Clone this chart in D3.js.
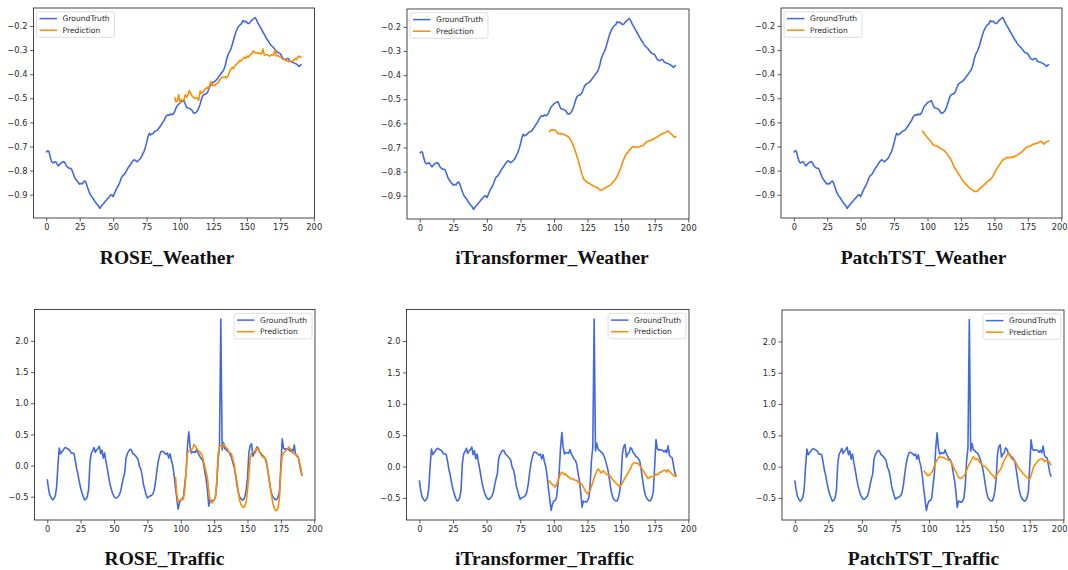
<!DOCTYPE html>
<html>
<head>
<meta charset="utf-8">
<script src="https://cdn.jsdelivr.net/npm/d3@7"></script>
<style>
  body { margin: 0; background: #fff; }
  .tick text { font-family: "DejaVu Sans", sans-serif; font-size: 8.3px; fill: #2b2b2b; }
  .legend text { font-family: "DejaVu Sans", sans-serif; font-size: 7.6px; fill: #2b2b2b; }
  .title { font-family: "Liberation Serif", "Times New Roman", serif; font-weight: bold; font-size: 19.5px; fill: #111; }
</style>
</head>
<body>
<script>
var width = 1068,
    height = 570;

// ground truth, steps 0..191
var weatherTruth = [
  -0.725,-0.718,-0.72,-0.745,-0.762,-0.768,-0.765,-0.763,-0.772,-0.78,
  -0.775,-0.768,-0.765,-0.762,-0.768,-0.78,-0.786,-0.79,-0.79,-0.795,
  -0.81,-0.826,-0.835,-0.843,-0.85,-0.856,-0.853,-0.855,-0.846,-0.843,
  -0.855,-0.872,-0.888,-0.9,-0.908,-0.915,-0.925,-0.932,-0.94,-0.946,
  -0.957,-0.948,-0.942,-0.935,-0.928,-0.922,-0.915,-0.91,-0.902,-0.9,
  -0.908,-0.895,-0.882,-0.87,-0.862,-0.848,-0.832,-0.822,-0.818,-0.81,
  -0.8,-0.79,-0.782,-0.775,-0.765,-0.758,-0.755,-0.76,-0.763,-0.757,
  -0.752,-0.745,-0.732,-0.722,-0.705,-0.685,-0.66,-0.645,-0.652,-0.648,
  -0.645,-0.638,-0.635,-0.633,-0.625,-0.618,-0.61,-0.6,-0.593,-0.58,
  -0.572,-0.568,-0.57,-0.565,-0.568,-0.565,-0.555,-0.54,-0.53,-0.525,
  -0.518,-0.515,-0.512,-0.51,-0.525,-0.538,-0.54,-0.542,-0.545,-0.55,
  -0.56,-0.562,-0.558,-0.552,-0.54,-0.525,-0.505,-0.49,-0.484,-0.482,
  -0.48,-0.47,-0.455,-0.442,-0.437,-0.433,-0.43,-0.425,-0.418,-0.41,
  -0.403,-0.395,-0.388,-0.378,-0.36,-0.335,-0.318,-0.308,-0.295,-0.278,
  -0.258,-0.238,-0.222,-0.21,-0.2,-0.195,-0.19,-0.178,-0.182,-0.18,
  -0.185,-0.19,-0.188,-0.18,-0.175,-0.17,-0.165,-0.172,-0.185,-0.195,
  -0.205,-0.215,-0.225,-0.235,-0.245,-0.255,-0.262,-0.272,-0.28,-0.285,
  -0.29,-0.298,-0.305,-0.31,-0.312,-0.315,-0.325,-0.335,-0.338,-0.34,
  -0.335,-0.335,-0.345,-0.348,-0.35,-0.352,-0.355,-0.358,-0.362,-0.368,
  -0.362,-0.36
];

var trafficTruth = [
  -0.22,-0.38,-0.48,-0.52,-0.55,-0.53,-0.49,-0.35,0.0,0.28,
  0.19,0.22,0.25,0.28,0.29,0.27,0.26,0.24,0.2,0.2,
  0.19,0.08,-0.05,-0.14,-0.26,-0.36,-0.44,-0.5,-0.55,-0.54,
  -0.5,-0.38,0.05,0.2,0.24,0.29,0.21,0.25,0.27,0.31,
  0.19,0.25,0.12,0.2,0.06,-0.05,-0.18,-0.3,-0.38,-0.45,
  -0.49,-0.52,-0.52,-0.5,-0.47,-0.41,-0.3,-0.2,-0.12,0.12,
  0.19,0.23,0.26,0.25,0.2,0.18,0.16,0.13,0.1,-0.01,
  -0.05,-0.15,-0.3,-0.38,-0.46,-0.52,-0.5,-0.49,-0.48,-0.46,
  -0.4,-0.28,-0.1,0.05,0.15,0.22,0.23,0.22,0.2,0.18,
  0.2,0.12,0.19,0.08,0.0,-0.15,-0.35,-0.52,-0.7,-0.6,
  -0.55,-0.54,-0.5,-0.3,-0.1,0.3,0.54,0.3,0.2,0.22,
  0.22,0.21,0.27,0.2,0.16,0.12,0.1,0.04,-0.1,-0.22,
  -0.4,-0.65,-0.55,-0.56,-0.57,-0.55,-0.5,-0.3,0.1,0.3,
  2.35,0.25,0.37,0.27,0.26,0.23,0.22,0.18,0.13,0.05,
  -0.03,-0.15,-0.3,-0.42,-0.5,-0.53,-0.55,-0.55,-0.5,-0.4,
  -0.2,0.2,0.32,0.35,0.15,0.2,0.22,0.3,0.28,0.22,
  0.2,0.16,0.15,0.12,0.08,-0.05,-0.2,-0.35,-0.45,-0.5,
  -0.53,-0.55,-0.54,-0.5,-0.4,0.0,0.43,0.28,0.26,0.27,
  0.26,0.26,0.23,0.26,0.22,0.33,0.18,0.15,0.14,0.02,
  -0.1,-0.16
];

// predictions, steps 96..191
var roseWeatherPred = [
  -0.495,-0.515,-0.51,-0.485,-0.52,-0.505,-0.51,-0.505,-0.485,-0.495,
  -0.485,-0.468,-0.48,-0.49,-0.495,-0.5,-0.498,-0.5,-0.508,-0.47,
  -0.48,-0.475,-0.466,-0.462,-0.455,-0.46,-0.45,-0.43,-0.448,-0.445,
  -0.448,-0.44,-0.438,-0.43,-0.42,-0.415,-0.412,-0.414,-0.41,-0.415,
  -0.405,-0.39,-0.38,-0.372,-0.376,-0.365,-0.36,-0.355,-0.348,-0.342,
  -0.345,-0.335,-0.33,-0.335,-0.325,-0.33,-0.322,-0.318,-0.31,-0.303,
  -0.312,-0.31,-0.313,-0.312,-0.316,-0.314,-0.296,-0.32,-0.32,-0.318,
  -0.322,-0.325,-0.32,-0.318,-0.322,-0.3,-0.325,-0.322,-0.325,-0.33,
  -0.332,-0.338,-0.34,-0.342,-0.344,-0.348,-0.347,-0.346,-0.345,-0.343,
  -0.335,-0.34,-0.33,-0.325,-0.33,-0.33
];

var itransWeatherPred = [
  -0.633,-0.632,-0.627,-0.626,-0.627,-0.629,-0.635,-0.643,-0.642,-0.644,
  -0.643,-0.645,-0.648,-0.65,-0.653,-0.657,-0.665,-0.675,-0.688,-0.702,
  -0.718,-0.735,-0.752,-0.775,-0.795,-0.815,-0.83,-0.836,-0.842,-0.846,
  -0.848,-0.852,-0.856,-0.858,-0.862,-0.864,-0.866,-0.87,-0.875,-0.877,
  -0.874,-0.872,-0.868,-0.864,-0.862,-0.858,-0.855,-0.85,-0.843,-0.837,
  -0.83,-0.82,-0.808,-0.795,-0.78,-0.762,-0.748,-0.735,-0.725,-0.72,
  -0.712,-0.706,-0.7,-0.696,-0.697,-0.7,-0.698,-0.697,-0.696,-0.694,
  -0.693,-0.688,-0.682,-0.676,-0.674,-0.672,-0.67,-0.668,-0.665,-0.662,
  -0.658,-0.656,-0.652,-0.648,-0.645,-0.642,-0.64,-0.638,-0.634,-0.632,
  -0.638,-0.642,-0.647,-0.654,-0.658,-0.652
];

var patchWeatherPred = [
  -0.634,-0.642,-0.65,-0.657,-0.664,-0.67,-0.676,-0.682,-0.692,-0.695,
  -0.697,-0.698,-0.702,-0.706,-0.71,-0.712,-0.715,-0.72,-0.726,-0.735,
  -0.742,-0.75,-0.76,-0.772,-0.785,-0.795,-0.803,-0.812,-0.82,-0.83,
  -0.838,-0.846,-0.852,-0.858,-0.864,-0.87,-0.875,-0.878,-0.882,-0.886,
  -0.887,-0.886,-0.882,-0.874,-0.87,-0.866,-0.861,-0.855,-0.85,-0.845,
  -0.84,-0.837,-0.83,-0.822,-0.812,-0.8,-0.79,-0.782,-0.774,-0.766,
  -0.758,-0.754,-0.75,-0.746,-0.745,-0.746,-0.746,-0.744,-0.743,-0.742,
  -0.738,-0.736,-0.732,-0.728,-0.724,-0.72,-0.714,-0.708,-0.703,-0.7,
  -0.7,-0.698,-0.694,-0.69,-0.69,-0.688,-0.686,-0.684,-0.68,-0.678,
  -0.684,-0.69,-0.684,-0.68,-0.678,-0.676
];

var roseTrafficPred = [
  -0.18,-0.45,-0.58,-0.56,-0.55,-0.55,-0.54,-0.4,-0.1,0.2,
  0.23,0.25,0.25,0.28,0.34,0.31,0.27,0.24,0.22,0.2,
  0.16,0.08,-0.02,-0.1,-0.2,-0.42,-0.56,-0.6,-0.58,-0.55,
  -0.5,-0.25,0.2,0.3,0.32,0.3,0.35,0.32,0.29,0.27,
  0.22,0.2,0.19,0.1,0.02,-0.12,-0.24,-0.4,-0.55,-0.62,
  -0.66,-0.67,-0.65,-0.58,-0.4,-0.15,0.12,0.2,0.22,0.22,
  0.25,0.28,0.26,0.22,0.18,0.14,0.14,0.12,0.05,-0.05,
  -0.18,-0.33,-0.48,-0.6,-0.68,-0.72,-0.72,-0.68,-0.5,-0.1,
  0.16,0.2,0.22,0.25,0.27,0.3,0.27,0.22,0.2,0.19,
  0.18,0.17,0.13,0.05,-0.05,-0.17
];

var itransTrafficPred = [
  -0.22,-0.24,-0.27,-0.29,-0.3,-0.33,-0.29,-0.24,-0.17,-0.12,
  -0.09,-0.11,-0.13,-0.12,-0.15,-0.17,-0.18,-0.2,-0.19,-0.21,
  -0.22,-0.22,-0.25,-0.26,-0.27,-0.29,-0.33,-0.37,-0.41,-0.43,
  -0.41,-0.38,-0.32,-0.25,-0.18,-0.13,-0.07,-0.04,-0.06,-0.1,
  -0.09,-0.07,-0.1,-0.12,-0.13,-0.14,-0.15,-0.19,-0.21,-0.24,
  -0.26,-0.28,-0.3,-0.32,-0.3,-0.26,-0.22,-0.18,-0.15,-0.11,
  -0.07,-0.04,0.02,0.05,0.06,0.05,0.06,0.04,0.01,-0.02,
  -0.05,-0.08,-0.12,-0.16,-0.19,-0.18,-0.16,-0.16,-0.16,-0.14,
  -0.12,-0.13,-0.12,-0.09,-0.09,-0.07,-0.06,-0.06,-0.09,-0.05,
  -0.08,-0.1,-0.12,-0.14,-0.16,-0.15
];

var patchTrafficPred = [
  -0.06,-0.09,-0.12,-0.14,-0.14,-0.12,-0.09,-0.05,0.02,0.07,
  0.11,0.14,0.16,0.15,0.15,0.14,0.13,0.12,0.11,0.1,
  0.09,0.05,0.0,-0.04,-0.08,-0.13,-0.17,-0.19,-0.18,-0.17,
  -0.15,-0.11,-0.06,0.0,0.04,0.08,0.12,0.16,0.13,0.11,
  0.13,0.1,0.06,0.04,0.02,0.01,0.0,-0.03,-0.05,-0.08,
  -0.11,-0.13,-0.15,-0.19,-0.15,-0.11,-0.08,-0.05,-0.01,0.05,
  0.1,0.14,0.18,0.22,0.18,0.15,0.12,0.1,0.09,0.05,
  0.01,-0.03,-0.06,-0.08,-0.11,-0.13,-0.15,-0.17,-0.19,-0.2,
  -0.14,-0.07,0.0,0.03,0.06,0.09,0.11,0.12,0.13,0.11,
  0.08,0.1,0.1,0.09,0.06,0.02
];

var predStart = 96;
var titles = ["ROSE_Weather", "iTransformer_Weather", "PatchTST_Weather",
              "ROSE_Traffic", "iTransformer_Traffic", "PatchTST_Traffic"];
var xTicks = [0, 25, 50, 75, 100, 125, 150, 175, 200];
var weatherTicks = [-0.9, -0.8, -0.7, -0.6, -0.5, -0.4, -0.3, -0.2];
var trafficTicks = [-0.5, 0.0, 0.5, 1.0, 1.5, 2.0];
var seriesNames = ["GroundTruth", "Prediction"];

var blue = "#4169e1", orange = "#ff8c00";

// frame of each axes: left, top, right, bottom; title anchor
var layout = [
  { box: [33.5, 8, 314.5, 218],   legend: "left",  tx: 167,   ty: 264 },
  { box: [407, 9, 689, 219],      legend: "left",  tx: 552,   ty: 264 },
  { box: [781, 8, 1062, 218],     legend: "left",  tx: 923.5, ty: 264 },
  { box: [34.5, 309.5, 315, 520], legend: "right", tx: 164.5, ty: 565 },
  { box: [406.5, 309.5, 689, 520],legend: "right", tx: 544.5, ty: 565 },
  { box: [782, 310, 1064, 520],   legend: "right", tx: 923.5, ty: 565 }
];

var panels = [
  { truth: weatherTruth, pred: roseWeatherPred,   ticks: weatherTicks },
  { truth: weatherTruth, pred: itransWeatherPred, ticks: weatherTicks },
  { truth: weatherTruth, pred: patchWeatherPred,  ticks: weatherTicks },
  { truth: trafficTruth, pred: roseTrafficPred,   ticks: trafficTicks },
  { truth: trafficTruth, pred: itransTrafficPred, ticks: trafficTicks },
  { truth: trafficTruth, pred: patchTrafficPred,  ticks: trafficTicks }
];

var svg = d3.select("body").append("svg")
  .attr("width", width)
  .attr("height", height);

var fmt = d3.format(".1f");

panels.forEach(function(p, i) {
  var L = layout[i], b = L.box;
  var truthPts = p.truth.map(function(v, k) { return [k, v]; });
  var predPts = p.pred.map(function(v, k) { return [predStart + k, v]; });

  // matplotlib-like 5% margins
  var xmax = p.truth.length - 1, xpad = xmax * 0.05;
  var ext = d3.extent(p.truth.concat(p.pred)), ypad = (ext[1] - ext[0]) * 0.05;

  var x = d3.scaleLinear().domain([-xpad, xmax + xpad]).range([b[0], b[2]]);
  var y = d3.scaleLinear().domain([ext[0] - ypad, ext[1] + ypad]).range([b[3], b[1]]);

  var g = svg.append("g");

  g.append("g")
    .attr("transform", "translate(0," + b[3] + ")")
    .call(d3.axisBottom(x).tickValues(xTicks).tickSize(3.5).tickPadding(2.5).tickFormat(d3.format("d")))
    .call(function(a) {
      a.select(".domain").remove();
      a.selectAll(".tick line").attr("stroke", "#333").attr("stroke-width", 0.8);
      // keep the last label inside the page
      a.selectAll(".tick text").each(function(d) {
        var right = x(d) + this.getBBox().width / 2;
        if (right > width - 1) d3.select(this).attr("dx", (width - 1 - right) + "px");
      });
    });

  g.append("g")
    .attr("transform", "translate(" + b[0] + ",0)")
    .call(d3.axisLeft(y).tickValues(p.ticks).tickSize(3.5).tickPadding(2.5).tickFormat(fmt))
    .call(function(a) {
      a.select(".domain").remove();
      a.selectAll(".tick line").attr("stroke", "#333").attr("stroke-width", 0.8);
    });

  var line = d3.line()
    .x(function(d) { return x(d[0]); })
    .y(function(d) { return y(d[1]); });

  g.append("path").datum(truthPts)
    .attr("fill", "none").attr("stroke", blue).attr("stroke-width", 1.6)
    .attr("stroke-linejoin", "round").attr("d", line);

  g.append("path").datum(predPts)
    .attr("fill", "none").attr("stroke", orange).attr("stroke-width", 1.6)
    .attr("stroke-linejoin", "round").attr("d", line);

  g.append("rect")
    .attr("x", b[0]).attr("y", b[1])
    .attr("width", b[2] - b[0]).attr("height", b[3] - b[1])
    .attr("fill", "none").attr("stroke", "#333").attr("stroke-width", 0.9);

  // legend
  var lw = 78, lh = 25.5;
  var lx = L.legend === "left" ? b[0] + 3 : b[2] - 3 - lw;
  var ly = b[1] + 3.8;
  var leg = g.append("g").attr("class", "legend").attr("transform", "translate(" + lx + "," + ly + ")");
  leg.append("rect")
    .attr("width", lw).attr("height", lh).attr("rx", 2)
    .attr("fill", "#fff").attr("fill-opacity", 0.8)
    .attr("stroke", "#d6d6d6").attr("stroke-width", 0.8);
  seriesNames.forEach(function(name, j) {
    var cy = 6.8 + j * 11.6;
    leg.append("line")
      .attr("x1", 3).attr("x2", 20.5).attr("y1", cy).attr("y2", cy)
      .attr("stroke", j === 0 ? blue : orange).attr("stroke-width", 1.5);
    leg.append("text")
      .attr("x", 26).attr("y", cy + 2.8)
      .text(name);
  });

  svg.append("text")
    .attr("class", "title")
    .attr("x", L.tx).attr("y", L.ty)
    .attr("text-anchor", "middle")
    .text(titles[i]);
});
</script>
</body>
</html>
